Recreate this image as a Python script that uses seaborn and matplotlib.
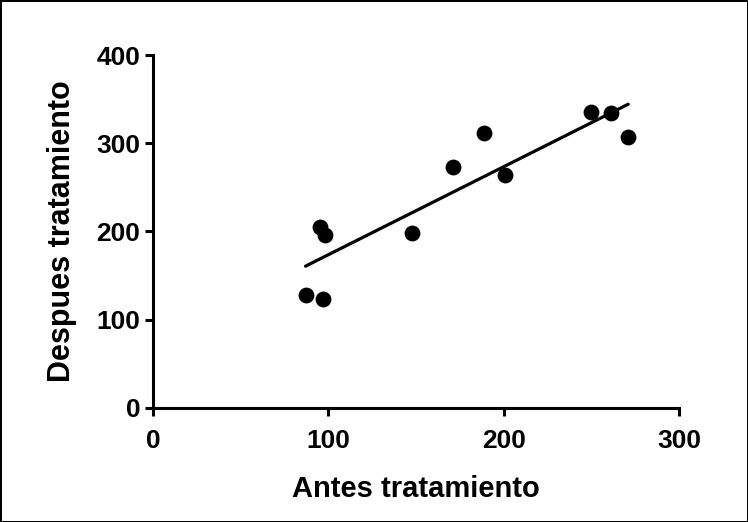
import matplotlib.pyplot as plt
import pandas as pd
import seaborn as sns

sns.set_style("ticks")
plt.rcParams['font.family'] = ['Liberation Sans', 'DejaVu Sans']
plt.rcParams['text.color'] = "black"
plt.rcParams['axes.labelcolor'] = "black"

antes = [87, 97, 95, 98, 148, 171, 189, 201, 250, 261, 271]
despues = [128, 123, 205, 196, 198, 273, 312, 264, 335, 334, 307]

df = pd.DataFrame({"Antes tratamiento": antes, "Despues tratamiento": despues})

fig = plt.figure(figsize=(7.48, 5.22), dpi=100, linewidth=2, edgecolor="black")
ax = fig.add_axes([0.2045, 0.219, 0.7033, 0.6756])

sns.regplot(data=df, x="Antes tratamiento", y="Despues tratamiento", ci=None, ax=ax,
            color="black",
            scatter_kws={"s": 130, "clip_on": False, "linewidths": 0, "alpha": 1},
            line_kws={"linewidth": 2.3})

ax.set_xlim(0, 300)
ax.set_ylim(0, 400)
ax.set_xticks([0, 100, 200, 300])
ax.set_yticks([0, 100, 200, 300, 400])
sns.despine(ax=ax)
for s in ["left", "bottom"]:
    ax.spines[s].set_linewidth(2.2)
    ax.spines[s].set_color("black")
ax.tick_params(width=2.2, length=6, pad=3, labelsize=19, colors="black")
ax.tick_params(axis="x", pad=9)
for lab in ax.get_xticklabels() + ax.get_yticklabels():
    lab.set_fontweight("bold")

ax.set_xlabel("Antes tratamiento", fontsize=21, fontweight="bold", labelpad=16)
ax.set_ylabel("Despues tratamiento", fontsize=22, fontweight="bold", labelpad=14)

fig.savefig("out.png", dpi=100, edgecolor=fig.get_edgecolor())
